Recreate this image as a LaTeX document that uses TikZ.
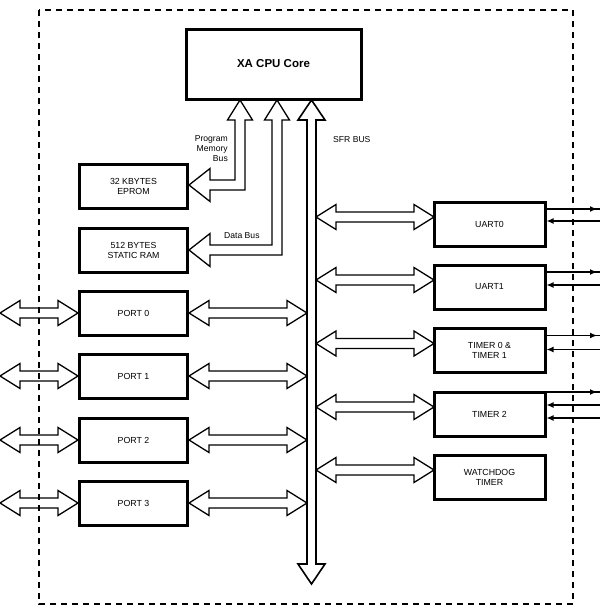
\documentclass[tikz,border=0pt]{standalone}
\usepackage{fontspec}
\setmainfont{Liberation Sans}
\usetikzlibrary{calc,arrows.meta}
\begin{document}
\begin{tikzpicture}[x=1pt,y=-1pt,
  blk/.style={draw, line width=3pt, fill=white, minimum width=108pt, minimum height=44pt, inner sep=0pt, align=center, font=\fontsize{8.8}{10}\selectfont},
  rblk/.style={blk, minimum width=111pt},
  hollow/.style={draw, line width=1.3pt, fill=white, line join=miter},
  sig/.style={line width=1.2pt},
  sigk/.style={line width=2pt},
  lbl/.style={inner sep=0pt, font=\fontsize{8.6}{10}\selectfont},
  tip/.style={-{Latex[length=7pt,width=6pt]}}
]
\useasboundingbox (0,0) rectangle (600,611);

% coordinates for bus lines and edges
\coordinate (busL) at (307,0);
\coordinate (busR) at (316,0);
\coordinate (edgeL) at (0,0);
\coordinate (edgeR) at (600,0);

% boxes
\node[blk, minimum width=175pt, minimum height=70pt, font=\fontsize{11.5}{13}\selectfont\bfseries] (cpu) at (273.5,64) {XA CPU Core};
\node[blk] (eprom) at (133.5,186) {32 KBYTES\\EPROM};
\node[blk] (ram) at (133.5,250) {512 BYTES\\STATIC RAM};
\node[blk] (p0) at (133.5,313) {PORT 0};
\node[blk] (p1) at (133.5,376) {PORT 1};
\node[blk] (p2) at (133.5,440) {PORT 2};
\node[blk] (p3) at (133.5,503) {PORT 3};
\node[rblk] (u0) at (489.5,224) {UART0};
\node[rblk] (u1) at (489.5,287) {UART1};
\node[rblk] (tm) at (489.5,350.5) {TIMER 0 \&\\TIMER 1};
\node[rblk] (t2) at (489.5,414) {TIMER 2};
\node[rblk] (wd) at (489.5,477) {WATCHDOG\\TIMER};

% SFR bus
\draw[hollow, line width=1.6pt] (311.5,100) -- (325,120) -- (316,120) -- (316,564) -- (325,564) -- (311.5,584)
  -- (298,564) -- (307,564) -- (307,120) -- (298,120) -- cycle;
% program memory bus
\draw[hollow] (240,100) -- (252.5,120) -- (245,120) -- (245,190) -- (210,190) -- (210,201.5)
  -- (189,185) -- (210,168.5) -- (210,180) -- (235,180) -- (235,120) -- (227.5,120) -- cycle;
% data bus
\draw[hollow] (277,100) -- (289.5,120) -- (282,120) -- (282,255) -- (210,255) -- (210,266.5)
  -- (189,250) -- (210,233.5) -- (210,245) -- (272,245) -- (272,120) -- (264.5,120) -- cycle;

\newcommand\hbiarrow[2]{%
  \draw[hollow] let \p1=#1, \p2=#2 in
    (\x1,\y1) -- (\x1+20pt,\y1+12.5pt) -- (\x1+20pt,\y1+5pt) -- (\x2-20pt,\y1+5pt)
    -- (\x2-20pt,\y1+12.5pt) -- (\x2,\y1) -- (\x2-20pt,\y1-12.5pt) -- (\x2-20pt,\y1-5pt)
    -- (\x1+20pt,\y1-5pt) -- (\x1+20pt,\y1-12.5pt) -- cycle;}

% ports
\foreach \bx in {p0,p1,p2,p3}{
  \hbiarrow{(edgeL |- \bx.west)}{(\bx.west)}
  \hbiarrow{(\bx.east)}{(busL |- \bx.east)}
}
% peripherals
\foreach \bx in {u0,u1,tm,t2,wd}{
  \coordinate (\bx a) at ($(\bx.north west)+(1.5,16.5)$);
  \hbiarrow{(busR |- \bx a)}{(\bx a)}
}

% labels
\node[lbl, anchor=east, align=right] (pmb) at (228,149) {Program\\Memory\\Bus};
\node[lbl, anchor=west] (db) at (224,236) {Data Bus};
\node[lbl, anchor=west] (sfr) at (333,140) {SFR BUS};

% external signals: #1 box, #2 name, #3 offset, #4 style
\newcommand\outsig[4]{%
  \coordinate (#2) at ($(#1.north east)+(0,#3)$);
  \draw[#4] (#2) -- (edgeR |- #2);
  \draw[#4,tip] (#2) -- ($(edgeR |- #2)+(-3,0)$);}
\newcommand\insig[4]{%
  \coordinate (#2) at ($(#1.north east)+(0,#3)$);
  \draw[#4,tip] (edgeR |- #2) -- (#2);}
\outsig{u0}{uza}{8.5}{sigk}
\insig{u0}{uzb}{20.5}{sigk}
\outsig{u1}{uoa}{8.5}{sig}
\insig{u1}{uob}{21.5}{sig}
\outsig{tm}{tma}{8.5}{sig}
\insig{tm}{tmb}{22.5}{sig}
\outsig{t2}{tta}{1.5}{sig}
\insig{t2}{ttb}{14.5}{sig}
\insig{t2}{ttc}{27.5}{sig}

% outer dashed border (drawn on top)
\draw[line width=2.4pt, dash pattern=on 6pt off 5pt] (39,10) rectangle (573,604);
\end{tikzpicture}
\end{document}
